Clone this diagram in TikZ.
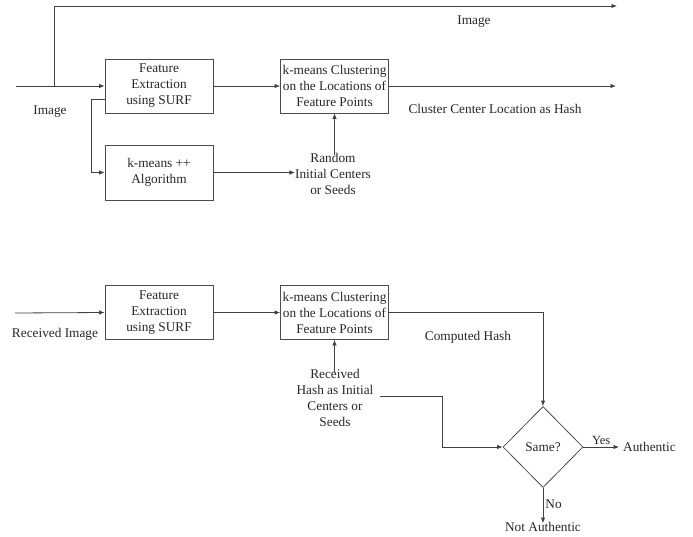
\documentclass[tikz,border=0pt]{standalone}
\usepackage{fontspec}
\setmainfont{Liberation Serif}
\usetikzlibrary{arrows.meta,shapes.geometric}
\begin{document}
\begin{tikzpicture}[x=1pt,y=-1pt,
  every node/.style={font=\fontsize{13.3}{16}\selectfont, text=black!85},
  blockbox/.style={draw=black!70, line width=0.8pt, minimum width=108pt, minimum height=54pt, inner sep=0pt, align=center},
  lbl/.style={inner sep=0pt, align=center},
  conn/.style={draw=black!75, line width=0.8pt},
  arr/.style={conn, -{Latex[length=5.5pt,width=4.5pt]}},
  decision/.style={diamond, draw=black!70, line width=0.8pt, minimum width=80pt, minimum height=81pt, inner sep=0pt}
]
\useasboundingbox (0,0) rectangle (693,537);

% ---------- upper diagram ----------
\node[blockbox] (fe1) at (159,86) {Feature\\Extraction\\using SURF};
\node[blockbox] (km1) at (334.5,86) {k-means Clustering\\on the Locations of\\Feature Points};
\node[blockbox, minimum height=55pt] (kpp) at (159,172.5) {k-means ++\\Algorithm};
\node[lbl] (rnd) at (333,174) {Random\\Initial Centers\\or Seeds};
\node[lbl] (img1) at (50,112) {Image};
\node[lbl] (img2) at (474,22) {Image};
\node[lbl] (hash1) at (495,109) {Cluster Center Location as Hash};

\coordinate (in1) at (16,86);
\coordinate (br) at (54,86);
\coordinate (out1) at (617,6);
\coordinate (out2) at (616,86);

\draw[arr] (in1) -- (fe1.west);
\draw[arr] (br) |- (out1);
\draw[arr] (fe1.east) -- (km1.west);
\draw[arr] (km1.east) -- (out2);
\draw[arr] ([yshift=-13pt]fe1.west) -- ++(-13,0) |- (kpp.west);
\draw[arr] (kpp.east) -- (rnd.west |- kpp.east);
\draw[arr] ([yshift=-2pt]km1.south |- rnd.north) -- (km1.south);

% ---------- lower diagram ----------
\node[blockbox] (fe2) at (159,312.5) {Feature\\Extraction\\using SURF};
\node[blockbox] (km2) at (334.5,312.5) {k-means Clustering\\on the Locations of\\Feature Points};
\node[lbl] (rimg) at (55,334) {Received Image};
\node[lbl] (rhash) at (335,397.5) {Received\\Hash as Initial\\Centers or\\Seeds};
\node[lbl] (chash) at (468,337) {Computed Hash};
\node[decision] (same) at (543,447) {Same?};
\node[lbl, anchor=west] (auth) at (623,447) {Authentic};
\node[lbl] (nauth) at (543,527) {Not Authentic};

\coordinate (in2) at (15,313);
\coordinate (hs) at (380,396);

\draw[arr] (in2) -- (fe2.west);
\draw[arr] (fe2.east) -- (km2.west);
\draw[arr] ([yshift=-4pt]km2.south |- rhash.north) -- (km2.south);
\draw[arr] (km2.east) -| (same.north);
\draw[arr] (hs) -- ++(62,0) |- (same.west);
\draw[arr] (same.east) -- node[lbl, above=2pt, font=\fontsize{12.5}{15}\selectfont] {Yes} ([xshift=-4pt]auth.west);
\draw[arr] (same.south) -- node[lbl, right=2pt, pos=0.45] {No} ([yshift=-1pt]nauth.north);
\end{tikzpicture}
\end{document}
